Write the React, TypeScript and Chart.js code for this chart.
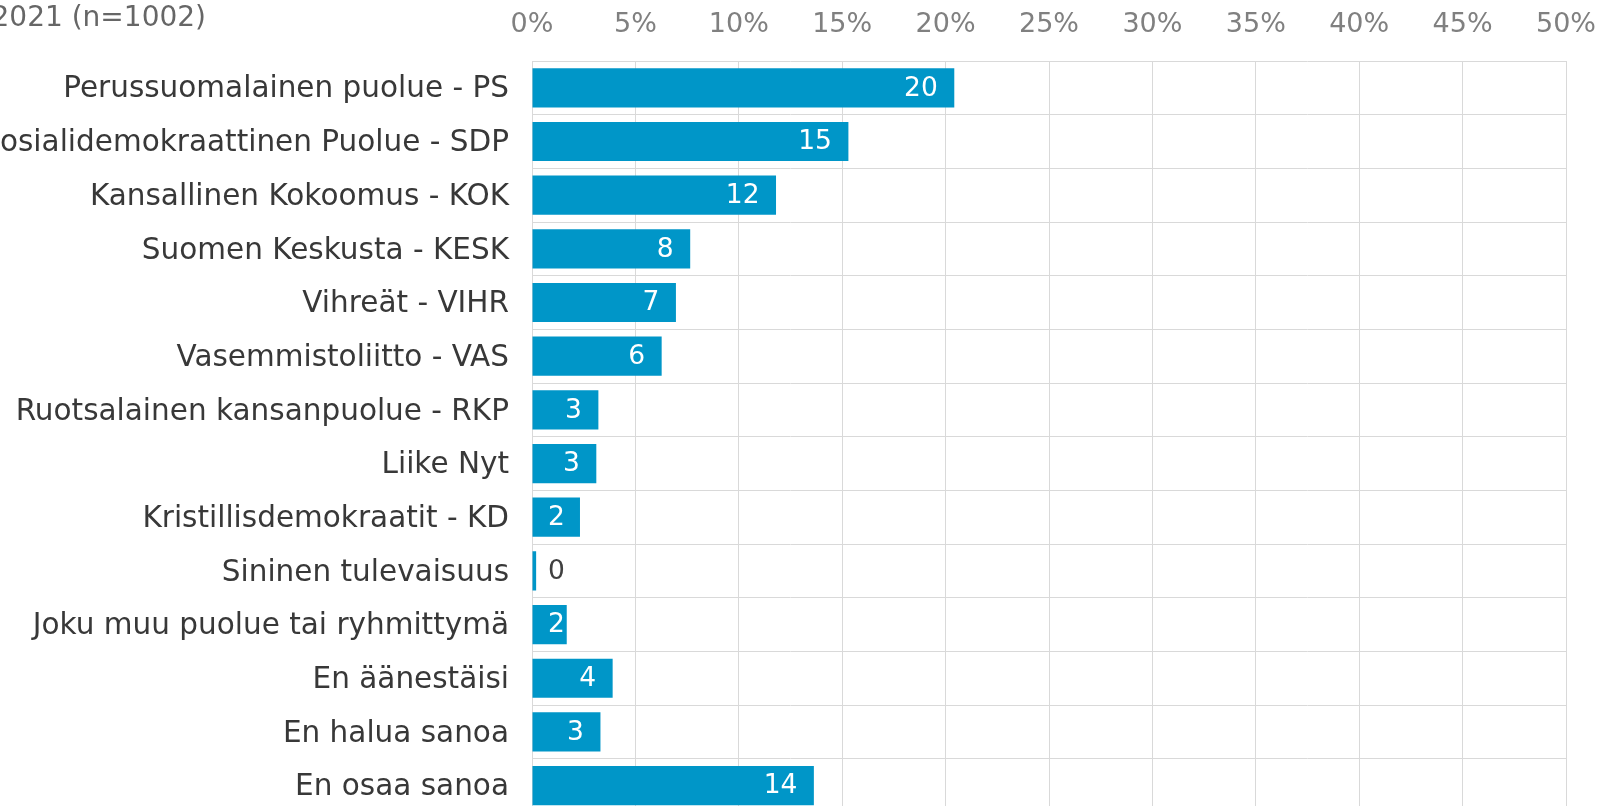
import React, { useEffect, useRef } from 'react';
import { Chart, registerables } from 'chart.js';

Chart.register(...registerables);

const categories: string[] = [
  'Perussuomalainen puolue - PS',
  'Sosialidemokraattinen Puolue - SDP',
  'Kansallinen Kokoomus - KOK',
  'Suomen Keskusta - KESK',
  'Vihreät - VIHR',
  'Vasemmistoliitto - VAS',
  'Ruotsalainen kansanpuolue - RKP',
  'Liike Nyt',
  'Kristillisdemokraatit - KD',
  'Sininen tulevaisuus',
  'Joku muu puolue tai ryhmittymä',
  'En äänestäisi',
  'En halua sanoa',
  'En osaa sanoa',
];

const values: number[] = [20.42, 15.3, 11.8, 7.65, 6.96, 6.27, 3.21, 3.11, 2.32, 0.2, 1.68, 3.9, 3.31, 13.63];

const xTickMin = 0;
const xTickMax = 50;
const xTickStep = 5;

const titleText = '2021 (n=1002)';

const OFFSET_LEFT = 200;
const CANVAS_W = 1801;
const CANVAS_H = 830;
const FONT = '"DejaVu Sans", Verdana, sans-serif';

const barLabels = {
  id: 'barLabels',
  afterDatasetsDraw(chart: any) {
    const ctx = chart.ctx;
    const meta = chart.getDatasetMeta(0);
    const base = chart.scales.x.getPixelForValue(0);
    ctx.save();
    ctx.font = `26.5px ${FONT}`;
    ctx.textBaseline = 'middle';
    ctx.textAlign = 'left';
    meta.data.forEach((el: any, i: number) => {
      const text = String(Math.round(values[i]));
      const w = ctx.measureText(text).width;
      const end = el.x;
      let left = end - 16.5 - w;
      if (left < base + 16) left = base + 16;
      const inside = left + w <= end + 1;
      ctx.fillStyle = inside ? '#ffffff' : '#404040';
      ctx.fillText(text, left, el.y + 1);
    });
    ctx.restore();
  },
};

const titlePlugin = {
  id: 'leftTitle',
  afterDraw(chart: any) {
    const ctx = chart.ctx;
    ctx.save();
    ctx.font = `28px ${FONT}`;
    ctx.fillStyle = '#666666';
    ctx.textAlign = 'right';
    ctx.textBaseline = 'middle';
    ctx.fillText(titleText, OFFSET_LEFT + 206, 19);
    ctx.restore();
  },
};

export default function App() {
  const ref = useRef<HTMLCanvasElement | null>(null);

  useEffect(() => {
    if (!ref.current) return;
    Chart.defaults.font.family = FONT;
    const chart = new Chart(ref.current, {
      type: 'bar',
      data: {
        labels: categories,
        datasets: [
          {
            data: values,
            backgroundColor: '#0096c8',
            borderWidth: 0,
            barPercentage: 0.73,
            categoryPercentage: 1,
          },
        ],
      },
      options: {
        indexAxis: 'y',
        responsive: false,
        animation: false,
        devicePixelRatio: 1,
        layout: { padding: { left: 0, right: 35, top: 0, bottom: 17.6 } },
        plugins: {
          legend: { display: false },
          tooltip: { enabled: false },
          title: { display: false },
        },
        scales: {
          x: {
            position: 'top',
            min: xTickMin,
            max: xTickMax,
            ticks: {
              stepSize: xTickStep,
              callback: (v: any) => `${v}%`,
              font: { size: 27, family: FONT },
              color: '#808080',
              padding: 20,
              maxRotation: 0,
            },
            grid: { color: '#d9d9d9', drawTicks: false, lineWidth: 1 },
            border: { display: false },
            afterFit: (s: any) => {
              s.height = 61;
              s.paddingLeft = 0;
              s.paddingRight = 0;
            },
          },
          y: {
            type: 'category',
            offset: true,
            ticks: {
              font: { size: 29.5, family: FONT },
              color: '#383838',
              padding: 23,
              autoSkip: false,
              labelOffset: 2,
            },
            grid: { color: '#d9d9d9', drawTicks: false, offset: true, lineWidth: 1 },
            border: { display: false },
            afterFit: (s: any) => {
              s.width = OFFSET_LEFT + 532;
              s.paddingTop = 0;
              s.paddingBottom = 0;
            },
          },
        },
      },
      plugins: [barLabels, titlePlugin],
    });
    return () => chart.destroy();
  }, []);

  return (
    <div
      style={{
        position: 'fixed',
        left: 0,
        top: 0,
        width: 1601,
        height: 806,
        overflow: 'hidden',
        background: '#ffffff',
      }}
    >
      <canvas
        ref={ref}
        width={CANVAS_W}
        height={CANVAS_H}
        style={{ position: 'absolute', left: -OFFSET_LEFT, top: 0, display: 'block' }}
      />
    </div>
  );
}
